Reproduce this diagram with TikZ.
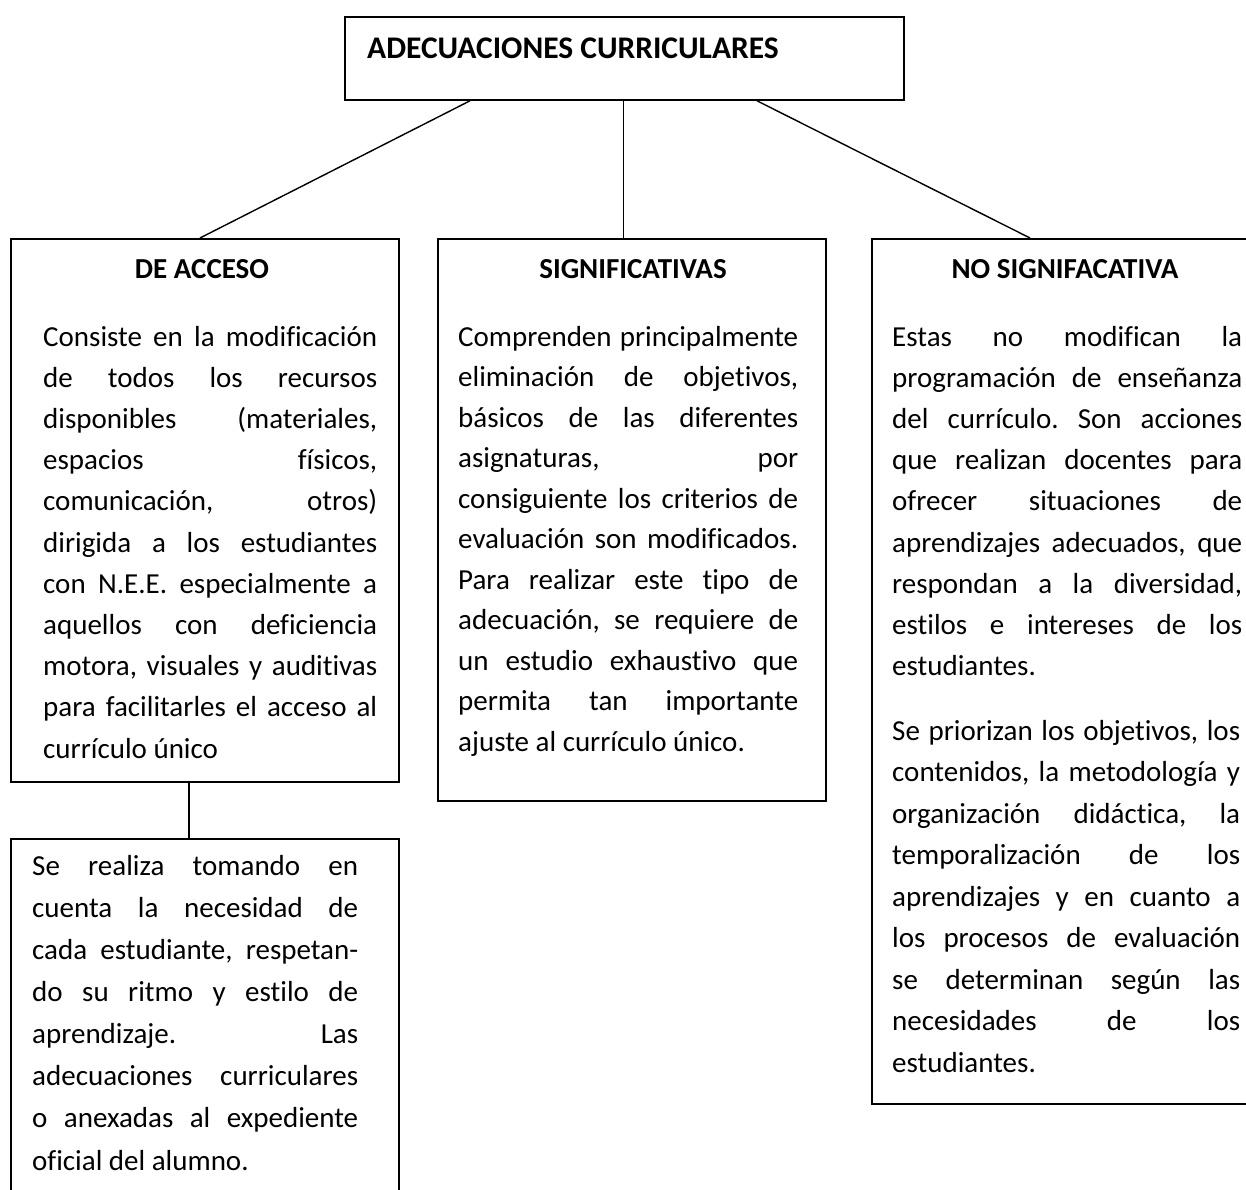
\documentclass[tikz,border=0pt]{standalone}
\usepackage{fontspec}
\setmainfont{Carlito}[Ligatures=NoCommon]
\frenchspacing
\tikzset{
  box/.style={draw=black, line width=1.8pt, anchor=north west, inner sep=0pt, fill=none},
  conn/.style={draw=black, line width=1.4pt},
  bodyline/.style={anchor=base west, inner sep=0pt, font=\fontsize{29}{35}\selectfont},
  headline/.style={anchor=base, inner sep=0pt, font=\fontsize{29}{35}\selectfont\bfseries},
}
\begin{document}
\begin{tikzpicture}[x=1pt,y=-1pt]
\useasboundingbox (0,0) rectangle (1246,1189);
\clip (0,0) rectangle (1246,1189);
\fill[white] (0,0) rectangle (1246,1189);

% boxes
\node[box, minimum width=559pt, minimum height=83pt] (top) at (344,16) {};
\node[box, minimum width=388pt, minimum height=543pt] (acc) at (10,238) {};
\node[box, minimum width=388pt, minimum height=562pt] (sig) at (437,238) {};
\node[box, minimum width=390pt, minimum height=865pt] (nosig) at (871,238) {};
\node[box, minimum width=388pt, minimum height=420pt] (bot) at (10,838) {};

% connectors
\draw[conn] ([xshift=126pt]top.south west) -- ([xshift=190pt]acc.north west);
\draw[conn] ([xshift=279.5pt]top.south west) -- ([xshift=186.5pt]sig.north west);
\draw[conn] ([xshift=413pt]top.south west) -- ([xshift=159pt]nosig.north west);
\draw[conn] ([xshift=179pt]acc.south west) -- ([xshift=179pt]bot.north west);

% title
\node[anchor=base west, inner sep=0pt, font=\fontsize{31.5}{38}\selectfont\bfseries] (title) at (367,58) {ADECUACIONES CURRICULARES};

% headings
\node[headline] (h-acc) at (202,278) {DE ACCESO};
\node[headline] (h-sig) at (633,278) {SIGNIFICATIVAS};
\node[headline] (h-nosig) at (1065,278) {NO SIGNIFACATIVA};

% DE ACCESO text
\foreach \t [count=\i from 0] in {
  {Consiste en la modificación},
  {de todos los recursos},
  {disponibles (materiales,},
  {espacios físicos,},
  {comunicación, otros)},
  {dirigida a los estudiantes},
  {con N.E.E. especialmente a},
  {aquellos con deficiencia},
  {motora, visuales y auditivas},
  {para facilitarles el acceso al}}
  \node[bodyline] (acc-l\i) at (43,{346+41.2*\i}) {\makebox[334pt][s]{\t}};
\node[bodyline] (acc-last) at (43,758) {currículo único};

% SIGNIFICATIVAS text
\foreach \t [count=\i from 0] in {
  {Comprenden principalmente},
  {eliminación de objetivos,},
  {básicos de las diferentes},
  {asignaturas, por},
  {consiguiente los criterios de},
  {evaluación son modificados.},
  {Para realizar este tipo de},
  {adecuación, se requiere de},
  {un estudio exhaustivo que},
  {permita tan importante}}
  \node[bodyline] (sig-l\i) at (458,{346+40.5*\i}) {\makebox[340pt][s]{\t}};
\node[bodyline] (sig-last) at (458,751) {ajuste al currículo único.};

% NO SIGNIFACATIVA text, paragraph 1
\foreach \t [count=\i from 0] in {
  {Estas no modifican la},
  {programación de enseñanza},
  {del currículo. Son acciones},
  {que realizan docentes para},
  {ofrecer situaciones de},
  {aprendizajes adecuados, que},
  {respondan a la diversidad,},
  {estilos e intereses de los}}
  \node[bodyline] (ns-l\i) at (892,{346+41.2*\i}) {\makebox[350pt][s]{\t}};
\node[bodyline] (ns-last) at (892,675) {estudiantes.};

% paragraph 2
\foreach \t [count=\i from 0] in {
  {Se priorizan los objetivos, los},
  {contenidos, la metodología y},
  {organización didáctica, la},
  {temporalización de los},
  {aprendizajes y en cuanto a},
  {los procesos de evaluación},
  {se determinan según las},
  {necesidades de los}}
  \node[bodyline] (np-l\i) at (892,{740+41.5*\i}) {\makebox[348pt][s]{\t}};
\node[bodyline] (np-last) at (892,1072) {estudiantes.};

% bottom box text
\foreach \t [count=\i from 0] in {
  {Se realiza tomando en},
  {cuenta la necesidad de},
  {cada estudiante, respetan-},
  {do su ritmo y estilo de},
  {aprendizaje. Las},
  {adecuaciones curriculares},
  {o anexadas al expediente}}
  \node[bodyline] (b-l\i) at (32,{875+42.1*\i}) {\makebox[326pt][s]{\t}};
\node[bodyline] (b-last) at (32,1170) {oficial del alumno.};
\end{tikzpicture}
\end{document}
